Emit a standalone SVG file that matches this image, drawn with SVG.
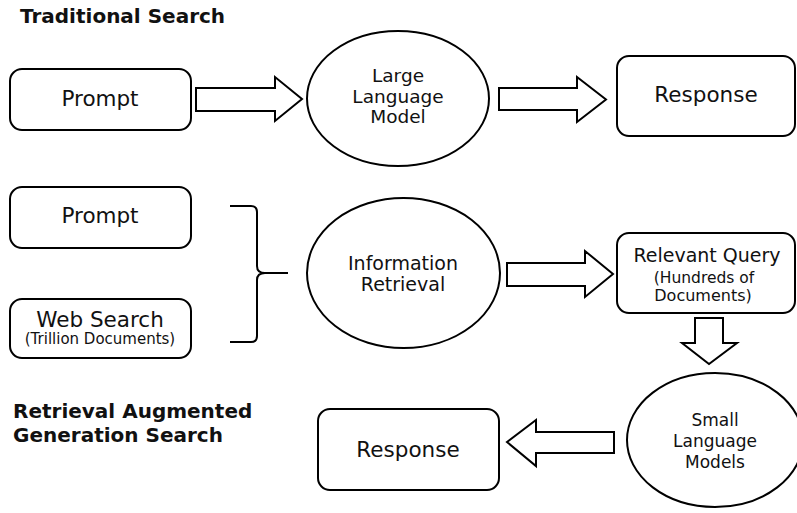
<svg xmlns="http://www.w3.org/2000/svg" width="797" height="513" viewBox="0 0 797 513">
<style>
.box{fill:#fff;stroke:#000;stroke-width:2}
.ell{fill:#fff;stroke:#000;stroke-width:2}
.arr{fill:#fff;stroke:#000;stroke-width:2;stroke-linejoin:miter}
.t{font-family:"DejaVu Sans",sans-serif;fill:#111;text-anchor:middle}
.title{font-family:"DejaVu Sans",sans-serif;font-weight:bold;font-size:20px;fill:#111}
</style>
<rect width="797" height="513" fill="#fff"/>
<text class="title" x="20" y="23">Traditional Search</text>
<text class="title" x="13" y="418">Retrieval Augmented</text>
<text class="title" x="13" y="442">Generation Search</text>

<g id="connectors">
<polygon class="arr" points="196,88 275,88 275,77 302,99 275,121 275,111 196,111"/>
<polygon class="arr" points="499,88 577,88 577,77 606,99.5 577,122 577,110 499,110"/>
<polygon class="arr" points="507,263 585,263 585,251 613,274 585,297 585,286 507,286"/>
<polygon class="arr" points="695,318 723,318 723,343 737,343 709,364 682,343 695,343"/>
<polygon class="arr" points="614,432 536,432 536,420 507,442 536,466 536,453 614,453"/>
<path d="M230,206 H251 Q257,206 257,212 V266 Q257,273 265,273 H288 M265,273 Q257,273 257,280 V336 Q257,342 251,342 H230" fill="none" stroke="#000" stroke-width="2"/>
</g>

<g id="prompt1">
<rect class="box" x="10" y="69" width="181" height="61" rx="12"/>
<text class="t" x="100" y="106" font-size="21.5">Prompt</text>
</g>
<g id="llm">
<ellipse class="ell" cx="398" cy="98.5" rx="91" ry="67.5"/>
<text class="t" x="398" y="82" font-size="18.5">Large</text>
<text class="t" x="398" y="103" font-size="18.5">Language</text>
<text class="t" x="398" y="123" font-size="18.5">Model</text>
</g>
<g id="response1">
<rect class="box" x="617" y="56" width="178" height="80" rx="12"/>
<text class="t" x="706" y="102" font-size="21.5">Response</text>
</g>
<g id="prompt2">
<rect class="box" x="10" y="187" width="181" height="61" rx="12"/>
<text class="t" x="100" y="223" font-size="21.5">Prompt</text>
</g>
<g id="websearch">
<rect class="box" x="10" y="299" width="181" height="59" rx="12"/>
<text class="t" x="100" y="327" font-size="21.5">Web Search</text>
<text class="t" x="100" y="344" font-size="15">(Trillion Documents)</text>
</g>
<g id="retrieval">
<ellipse class="ell" cx="403.5" cy="273" rx="96.5" ry="75"/>
<text class="t" x="403" y="270" font-size="19">Information</text>
<text class="t" x="403" y="291" font-size="19">Retrieval</text>
</g>
<g id="query">
<rect class="box" x="617" y="233" width="178" height="80" rx="12"/>
<text class="t" x="707" y="262" font-size="19">Relevant Query</text>
<text class="t" x="704" y="283" font-size="15.5">(Hundreds of</text>
<text class="t" x="703" y="301" font-size="16">Documents)</text>
</g>
<g id="slm">
<ellipse class="ell" cx="715" cy="440" rx="88" ry="67"/>
<text class="t" x="715" y="426" font-size="17">Small</text>
<text class="t" x="715" y="447" font-size="17">Language</text>
<text class="t" x="715" y="468" font-size="17">Models</text>
</g>
<g id="response2">
<rect class="box" x="318" y="409" width="181" height="81" rx="12"/>
<text class="t" x="408" y="457" font-size="21.5">Response</text>
</g>
</svg>
